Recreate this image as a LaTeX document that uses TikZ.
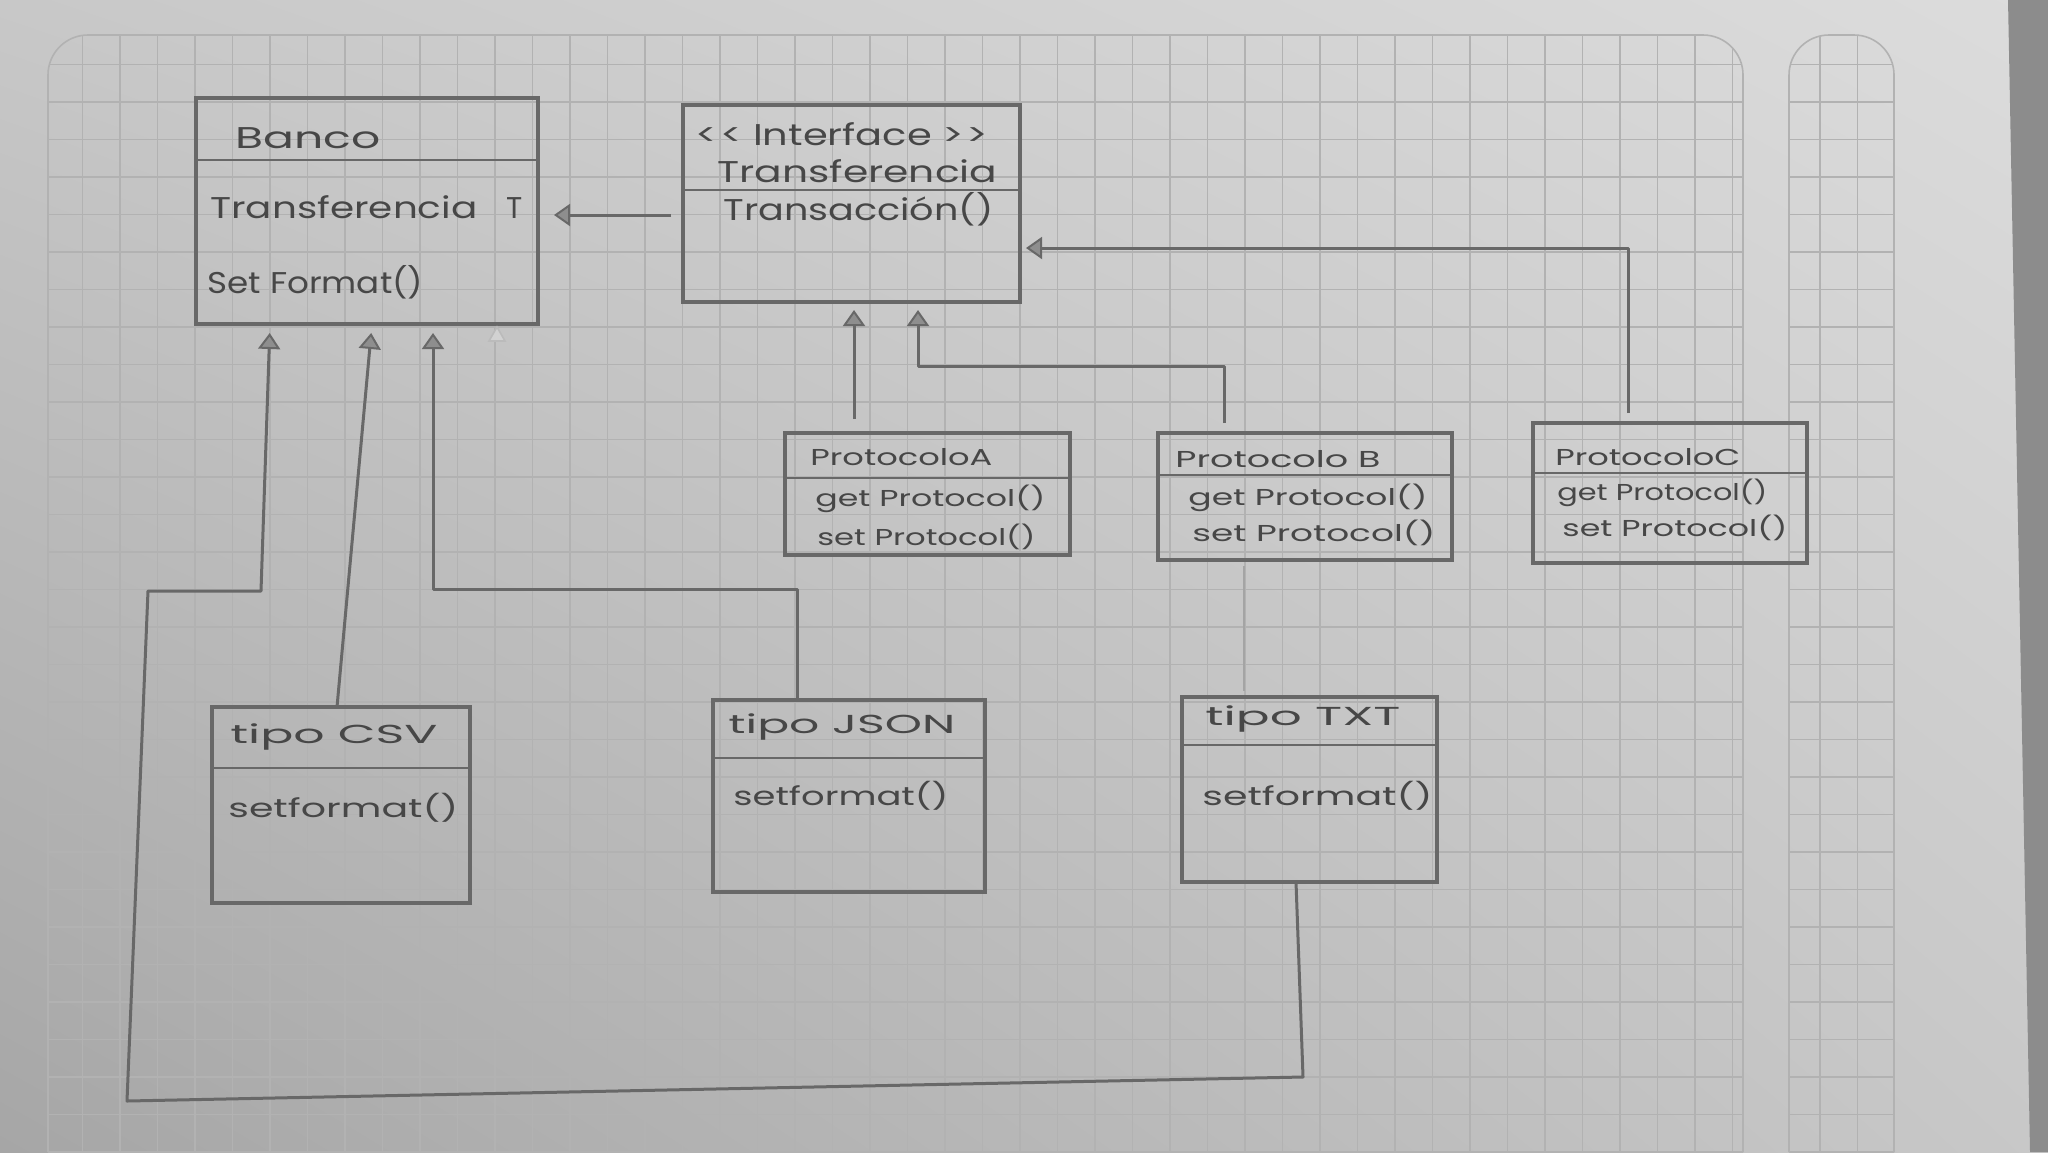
\documentclass[tikz,border=0pt]{standalone}
\usepackage{fontspec}
\setmainfont{Poppins}
\usepackage{graphicx}
\usetikzlibrary{arrows.meta,shadings}

% stretch a label horizontally to a given width, keeping its height
\newcommand\hw[2]{\resizebox{#1}{\height}{#2}}

\definecolor{paper}{HTML}{C8C8C8}
\definecolor{paperlight}{HTML}{DCDCDC}
\definecolor{paperdark}{HTML}{A6A6A6}
\definecolor{gridc}{HTML}{B2B2B2}
\definecolor{pencil}{HTML}{686868}
\definecolor{lead}{HTML}{474747}
\definecolor{edge}{HTML}{8C8C8C}

\begin{document}
\begin{tikzpicture}[x=0.5pt,y=-0.5pt,
  box/.style={draw=pencil, line width=1.6pt, anchor=north west, inner sep=0pt, outer sep=0pt},
  sep/.style={draw=pencil, line width=1.4pt},
  lbl/.style={text=lead, anchor=base west, inner sep=0pt, font=\fontsize{15}{18}\selectfont},
  mlbl/.style={lbl, font=\fontsize{13}{16}\selectfont},
  slbl/.style={lbl, font=\fontsize{11.5}{14}\selectfont},
  wire/.style={draw=pencil, line width=1.5pt, line join=round},
  inh/.style={wire, -{Triangle[length=8pt, width=11pt, fill=pencil!75, line width=1pt]}},
  faintwire/.style={draw=pencil!60, line width=1.1pt},
  gridline/.style={draw=gridc, line width=0.8pt},
]
\useasboundingbox (0,0) rectangle (2048,1152);

% ---------- squared paper ----------
\shade[upper left=paper, upper right=paperlight, lower left=paperdark, lower right=paper]
  (0,0) rectangle (2048,1152);
\begin{scope}
  \clip[rounded corners=20] (48,35) rectangle (1743,1250);
  \foreach \i in {0,...,46} \draw[gridline] ({45+37.5*\i},0) -- ({45+37.5*\i},1152);
  \foreach \j in {1,...,30} \draw[gridline] (0,{27+37.5*\j}) -- (2048,{27+37.5*\j});
\end{scope}
\draw[gridline, rounded corners=20] (48,1152) -- (48,35) -- (1743,35) -- (1743,1152);
\begin{scope}
  \clip[rounded corners=20] (1789,35) rectangle (1894,1250);
  \foreach \i in {0,...,3} \draw[gridline] ({1820+37.5*\i},0) -- ({1820+37.5*\i},1152);
  \foreach \j in {1,...,30} \draw[gridline] (1700,{27+37.5*\j}) -- (1950,{27+37.5*\j});
\end{scope}
\draw[gridline, rounded corners=20] (1789,1152) -- (1789,35) -- (1894,35) -- (1894,1152);
\fill[edge] (2008,0) -- (2048,0) -- (2048,1152) -- (2030,1152) -- cycle;

% ---------- classes ----------
\node[box, minimum width=171pt,   minimum height=113pt]  (banco) at (196,98)  {};
\node[box, minimum width=168.5pt, minimum height=98.5pt] (iface) at (683,105) {};
\node[box, minimum width=142.5pt, minimum height=61pt]   (pa)    at (785,433) {};
\node[box, minimum width=147pt,   minimum height=63.5pt] (pb)    at (1158,433) {};
\node[box, minimum width=137pt,   minimum height=70pt]   (pc)    at (1533,423) {};
\node[box, minimum width=129pt,   minimum height=98pt]   (csv)   at (212,707) {};
\node[box, minimum width=136pt,   minimum height=96pt]   (json)  at (713,700) {};
\node[box, minimum width=127.5pt, minimum height=92.5pt] (txt)   at (1182,697) {};

% compartment separators
\draw[sep] (banco.west |- 0,160) -- (banco.east |- 0,160);
\draw[sep] (iface.west |- 0,190) -- (iface.east |- 0,190);
\draw[sep] (pa.west |- 0,478) -- (pa.east |- 0,478);
\draw[sep] (pb.west |- 0,475) -- (pb.east |- 0,475);
\draw[sep] (pc.west |- 0,473) -- (pc.east |- 0,473);
\draw[sep] (csv.west |- 0,768) -- (csv.east |- 0,768);
\draw[sep] (json.west |- 0,758) -- (json.east |- 0,758);
\draw[sep] (txt.west |- 0,745) -- (txt.east |- 0,745);

% labels
\node[lbl] (bancoN) at (235,148) {\hw{72.5pt}{Banco}};
\node[lbl] (bancoA) at (210,218) {\hw{133.5pt}{Transferencia}};
\node[lbl] (bancoT) at (506,218) {T};
\node[lbl] (bancoM) at (207,293) {\hw{108pt}{Set Format()}};

\node[lbl] (ifaceS) at (695,145) {\hw{146.5pt}{<\kern1pt< Interface >\kern1pt>}};
\node[lbl] (ifaceN) at (717,182) {\hw{140pt}{Transferencia}};
\node[lbl] (ifaceM) at (723,220) {\hw{135pt}{Transacción()}};

\node[slbl] (paN) at (810,465)  {\hw{91pt}{ProtocoloA}};
\node[slbl] (paG) at (815,506)  {\hw{115pt}{get Protocol()}};
\node[slbl] (paS) at (817,545)  {\hw{109pt}{set Protocol()}};

\node[slbl] (pbN) at (1175,467) {\hw{102.5pt}{Protocolo B}};
\node[slbl] (pbG) at (1188,505) {\hw{119.5pt}{get Protocol()}};
\node[slbl] (pbS) at (1192,541) {\hw{121.5pt}{set Protocol()}};

\node[slbl] (pcN) at (1555,465) {\hw{92.5pt}{ProtocoloC}};
\node[slbl] (pcG) at (1557,500) {\hw{105pt}{get Protocol()}};
\node[slbl] (pcS) at (1562,536) {\hw{112.5pt}{set Protocol()}};

\node[mlbl] (csvN)  at (230,743)  {\hw{103.5pt}{tipo CSV}};
\node[mlbl] (csvM)  at (228,817)  {\hw{115pt}{setformat()}};
\node[mlbl] (jsonN) at (728,733)  {\hw{113.5pt}{tipo JSON}};
\node[mlbl] (jsonM) at (733,805)  {\hw{107.5pt}{setformat()}};
\node[mlbl] (txtN)  at (1205,725) {\hw{97.5pt}{tipo TXT}};
\node[mlbl] (txtM)  at (1202,805) {\hw{115pt}{setformat()}};

% ---------- relations ----------
% Banco holds a Transferencia
\draw[inh, shorten <=6pt, shorten >=8pt] (iface.west |- 0,215) -- (banco.east |- 0,215);

% protocols realise the interface
\draw[inh, shorten <=7pt, shorten >=4pt] (pa.north -| 854,0) -- (iface.south -| 854,0);
\coordinate (kB) at (918,366);
\draw[inh, shorten <=5pt, shorten >=4pt] (pb.north -| 1224,0) |- (kB) -- (iface.south -| kB);
\coordinate (kC) at (1628,248);
\draw[inh, shorten <=5pt, shorten >=3pt] (pc.north -| kC) |- (iface.east |- kC);

% formats towards Banco
\draw[inh, shorten >=4.5pt] (csv.north -| 337,0) -- (banco.south -| 372,0);
\coordinate (kJ) at (797,589);
\draw[inh, shorten >=4.5pt] (json.north -| kJ) |- (433,589) -- (banco.south -| 433,0);
\coordinate (kT1) at (1303,1077);
\coordinate (kT2) at (127,1101);
\coordinate (kT3) at (148,591);
\coordinate (kT4) at (261,591);
\draw[inh, shorten >=4.5pt] (txt.south -| 1296,0) -- (kT1) -- (kT2) -- (kT3) -- (kT4) -- (banco.south -| 270,0);

% erased arrowhead and faint guide line
\draw[draw=pencil!45, fill=pencil!30, line width=0.8pt] (489,341) -- (497,327) -- (505,341) -- cycle;
\draw[faintwire, shorten <=3pt, shorten >=3pt] (pb.south -| 1244,0) -- (txt.north -| 1244,0);

\end{tikzpicture}
\end{document}
